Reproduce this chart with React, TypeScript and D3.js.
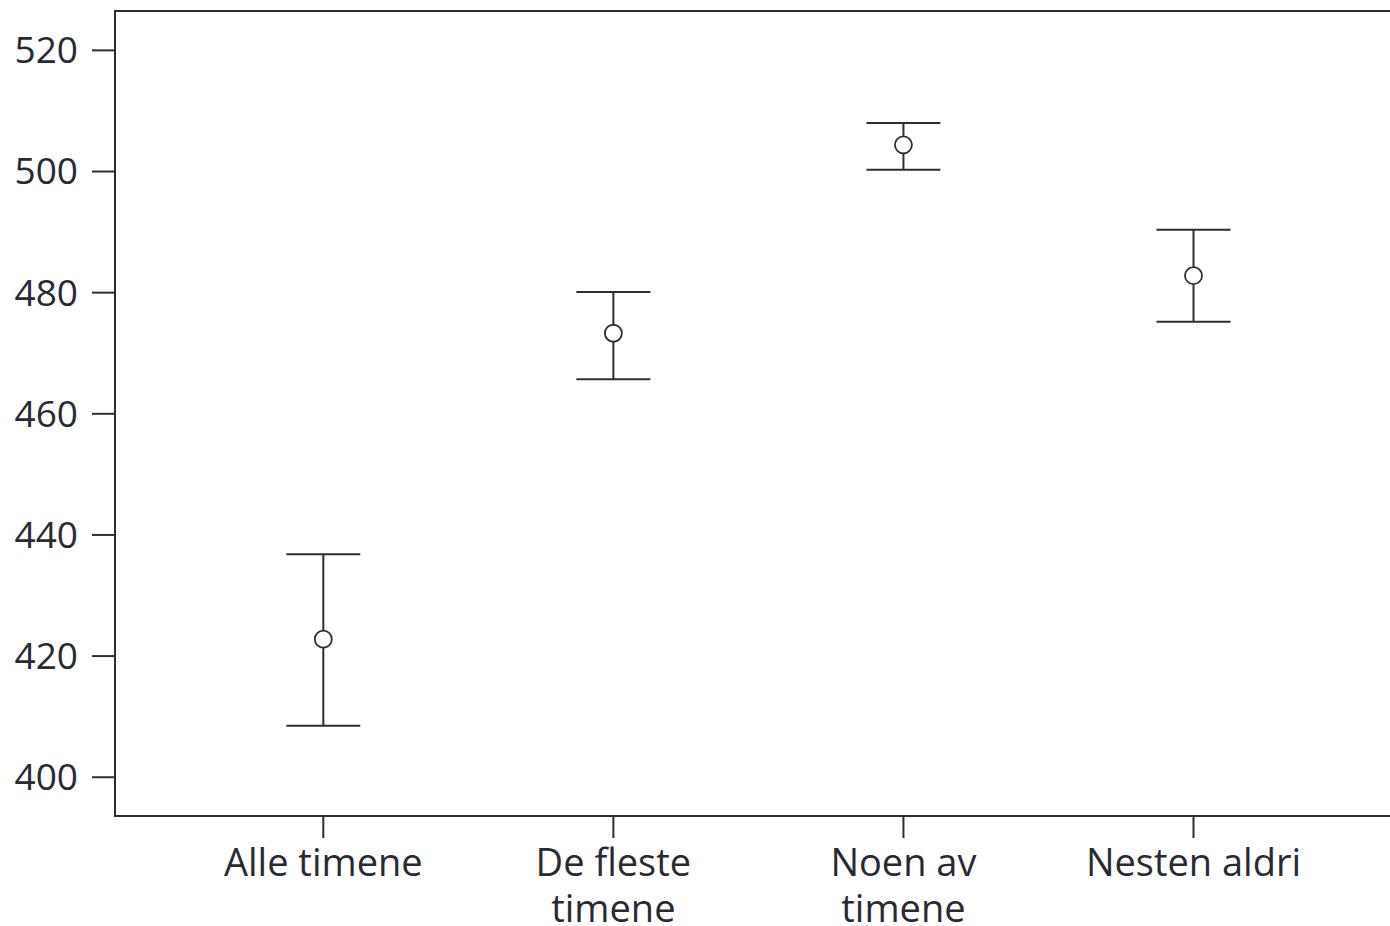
import React from "react";
import * as d3 from "d3";

const categories: string[][] = [["Alle timene"], ["De fleste", "timene"], ["Noen av", "timene"], ["Nesten aldri"]];
const means: number[] = [422.8, 473.3, 504.4, 482.8];
const upper: number[] = [436.8, 480.1, 508.0, 490.4];
const lower: number[] = [408.5, 465.7, 500.3, 475.2];
const yTicks: number[] = [400, 420, 440, 460, 480, 500, 520];

const W = 1390;
const H = 926;
const left = 115;
const top = 11;
const bottom = 816;
const right = 1400;
const ink = "#2f2f2f";
const txt = "#2a2a33";
const font = "'Open Sans', sans-serif";

export default function App() {
  const y = d3.scaleLinear().domain([393.6, 526.5]).range([bottom, top]);
  const x = d3.scalePoint<number>().domain(d3.range(categories.length)).range([323.3, 1193.5]);
  const capHalf = 37;
  return (
    <svg width={W} height={H} style={{ position: "absolute", left: 0, top: 0, background: "#fff" }}>
      <rect x={0} y={0} width={W} height={H} fill="#fff" />
      <path d={`M${right},${top}H${left}V${bottom}H${right}`} fill="none" stroke={ink} strokeWidth={2} />
      {yTicks.map((t) => (
        <g key={t}>
          <line x1={92} x2={left} y1={y(t)} y2={y(t)} stroke={ink} strokeWidth={2} />
          <text x={78} y={y(t)} dy="0.35em" textAnchor="end" fontFamily={font} fontSize={37} fontWeight={500} fill={txt}>
            {t}
          </text>
        </g>
      ))}
      {categories.map((lines, i) => (
        <g key={i}>
          <line x1={x(i)!} x2={x(i)!} y1={bottom} y2={838} stroke={ink} strokeWidth={2} />
          {lines.map((l, j) => (
            <text key={j} x={x(i)!} y={876 + j * 46} textAnchor="middle" fontFamily={font} fontSize={38} fontWeight={500} fill={txt}>
              {l}
            </text>
          ))}
        </g>
      ))}
      {means.map((m, i) => {
        const cx = x(i)!;
        return (
          <g key={i} stroke={ink} fill="none">
            <line x1={cx} x2={cx} y1={y(upper[i])} y2={y(lower[i])} strokeWidth={2} />
            <line x1={cx - capHalf} x2={cx + capHalf} y1={y(upper[i])} y2={y(upper[i])} strokeWidth={2} />
            <line x1={cx - capHalf} x2={cx + capHalf} y1={y(lower[i])} y2={y(lower[i])} strokeWidth={2} />
            <circle cx={cx} cy={y(m)} r={8.5} fill="#fff" strokeWidth={1.8} />
          </g>
        );
      })}
    </svg>
  );
}
